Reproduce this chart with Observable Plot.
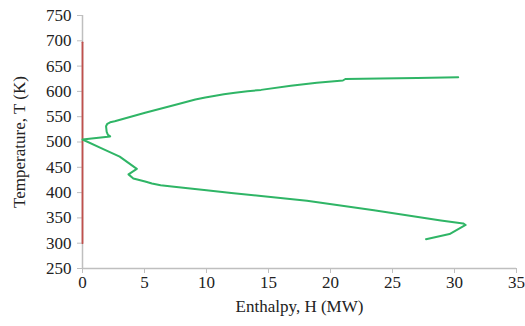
<!DOCTYPE html>
<html>
<head>
<meta charset="utf-8">
<script src="https://cdn.jsdelivr.net/npm/d3@7"></script>
<script src="https://cdn.jsdelivr.net/npm/@observablehq/plot@0.6"></script>
<style>
  html, body { margin: 0; padding: 0; background: #fff; }
  #chart svg { display: block; }
</style>
</head>
<body>
<div id="chart"></div>
<script>
// Composite curve (green): enthalpy (MW) vs temperature (K), in drawing order
const greenH = [30.3, 27.0, 24.0, 21.2, 21.0, 18.9, 16.8, 14.4, 13.3, 12.3, 11.4, 10.6, 9.9, 9.1, 7.74, 5.05, 2.6, 2.23, 2.0, 1.9, 1.95, 2.05, 2.23, 1.3, 0.0, 1.5, 3.0, 4.38, 3.71, 4.1, 5.05, 5.6, 6.3, 7.2, 8.5, 10.0, 12.0, 14.4, 18.1, 23.5, 28.9, 30.7, 30.9, 29.6, 27.7];
const greenT = [628, 626.5, 625.5, 624.5, 621.5, 617, 611, 603, 600.3, 597.5, 594.5, 591, 588, 584, 575, 557.7, 541, 539, 536, 531, 520, 514, 511, 508.5, 505, 488, 471, 447, 436, 428, 422, 418, 414.5, 412, 408.5, 404.5, 399, 393.5, 384, 365, 345, 339, 336, 318, 308];
// Vertical red line at H = 0
const redH = [0, 0];
const redT = [300, 697];
// Axis ticks
const xTicks = [0, 5, 10, 15, 20, 25, 30, 35];
const yTicks = [250, 300, 350, 400, 450, 500, 550, 600, 650, 700, 750];

const green = greenH.map((h, i) => ({H: h, T: greenT[i]}));
const red = redH.map((h, i) => ({H: h, T: redT[i]}));

const axisColor = "#bfbfbf";
const font = "'Liberation Serif', 'Times New Roman', serif";

const chart = Plot.plot({
  width: 525,
  height: 326,
  marginLeft: 82,
  marginRight: 9,
  marginTop: 15,
  marginBottom: 58,
  style: {fontFamily: font, fontSize: "17px", color: "#222", background: "#fff"},
  x: {domain: [0, 35], ticks: xTicks},
  y: {domain: [250, 750], ticks: yTicks},
  marks: [
    Plot.ruleY([250], {stroke: axisColor, strokeWidth: 1.5}),
    Plot.ruleX([0], {stroke: axisColor, strokeWidth: 1.5}),
    Plot.axisX({ticks: xTicks, tickSize: 5, tickPadding: 2, stroke: axisColor, fill: "#222",
      label: "Enthalpy, H (MW)", labelAnchor: "center", labelArrow: "none", labelOffset: 43, fontSize: 17}),
    Plot.axisY({ticks: yTicks, tickSize: 5, tickPadding: 6, stroke: axisColor, fill: "#222",
      label: "Temperature, T (K)", labelAnchor: "center", labelArrow: "none", labelOffset: 70, fontSize: 17}),
    Plot.line(red, {x: "H", y: "T", stroke: "#c0504d", strokeWidth: 1.8}),
    Plot.line(green, {x: "H", y: "T", stroke: "#2fb566", strokeWidth: 2, curve: "linear", strokeLinejoin: "round"})
  ]
});
document.getElementById("chart").appendChild(chart);
</script>
</body>
</html>
